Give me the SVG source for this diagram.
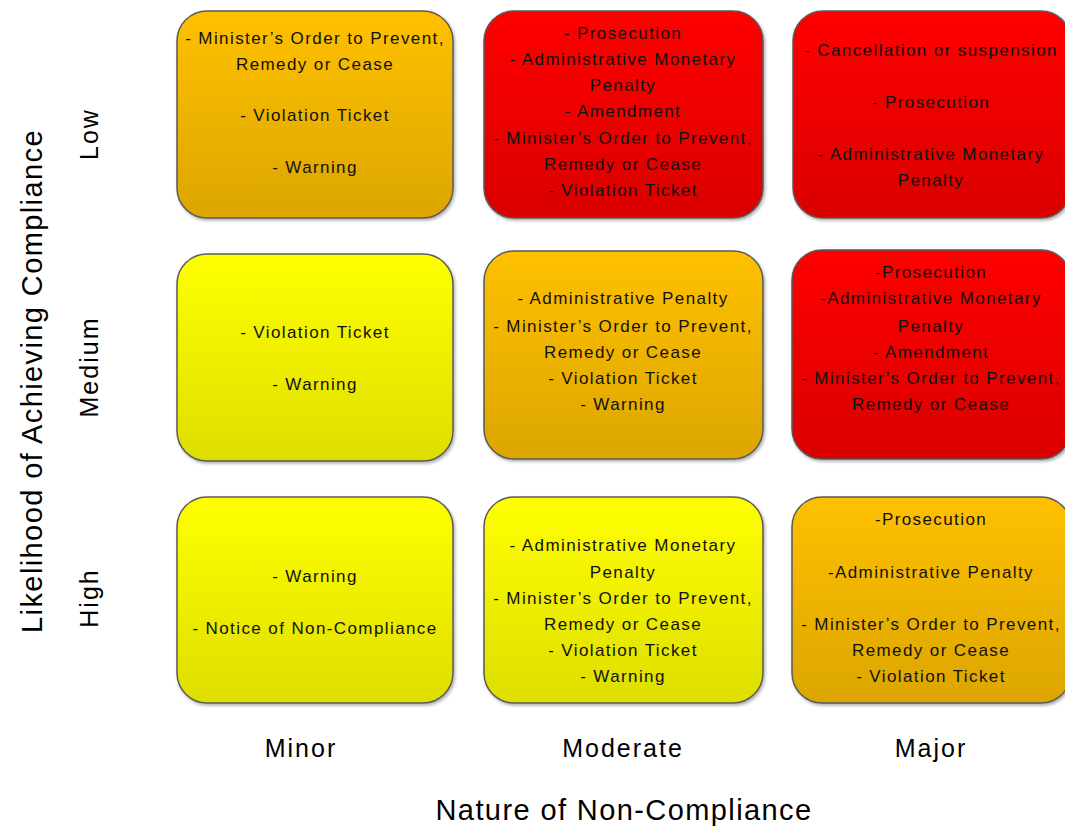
<svg xmlns="http://www.w3.org/2000/svg" width="1065" height="829" viewBox="0 0 1065 829">
<style>
.box{stroke:#5a5a5a;stroke-width:1.5;filter:url(#sh)}
.t{font-family:"Liberation Sans",Arial,sans-serif;font-size:17px;fill:#111;text-anchor:middle;letter-spacing:1.4px}
.lab{font-family:"Liberation Sans",Arial,sans-serif;font-size:25px;fill:#000;text-anchor:middle;letter-spacing:2px}
.ax{font-family:"Liberation Sans",Arial,sans-serif;font-size:29px;fill:#000;text-anchor:middle;letter-spacing:1.4px}
</style>
<defs>
<linearGradient id="gO" x1="0" y1="0" x2="0" y2="1"><stop offset="0" stop-color="#FFC000"/><stop offset="1" stop-color="#DCA600"/></linearGradient>
<linearGradient id="gR" x1="0" y1="0" x2="0" y2="1"><stop offset="0" stop-color="#FF0000"/><stop offset="1" stop-color="#DA0000"/></linearGradient>
<linearGradient id="gY" x1="0" y1="0" x2="0" y2="1"><stop offset="0" stop-color="#FFFF00"/><stop offset="1" stop-color="#DEDE00"/></linearGradient>
<filter id="sh" x="-5%" y="-5%" width="112%" height="115%"><feDropShadow dx="1.5" dy="2" stdDeviation="1.5" flood-color="#000" flood-opacity="0.3"/></filter>
</defs>
<rect width="1065" height="829" fill="#fff"/>
<g id="n11"><rect class="box" x="177" y="11" width="276" height="207" rx="30" fill="url(#gO)"/>
<text class="t"><tspan x="315" y="44">- Minister’s Order to Prevent,</tspan><tspan x="315" y="70">Remedy or Cease</tspan><tspan x="315" y="121">- Violation Ticket</tspan><tspan x="315" y="173">- Warning</tspan></text></g>
<g id="n12"><rect class="box" x="484" y="11" width="279" height="207" rx="30" fill="url(#gR)"/>
<text class="t"><tspan x="623" y="39">- Prosecution</tspan><tspan x="623" y="65">- Administrative Monetary</tspan><tspan x="623" y="91">Penalty</tspan><tspan x="623" y="117">- Amendment</tspan><tspan x="623" y="144">- Minister’s Order to Prevent,</tspan><tspan x="623" y="170">Remedy or Cease</tspan><tspan x="623" y="196">- Violation Ticket</tspan></text></g>
<g id="n13"><rect class="box" x="793" y="11" width="278" height="207" rx="30" fill="url(#gR)"/>
<text class="t"><tspan x="931" y="56">- Cancellation or suspension</tspan><tspan x="931" y="108">- Prosecution</tspan><tspan x="931" y="160">- Administrative Monetary</tspan><tspan x="931" y="186">Penalty</tspan></text></g>
<g id="n21"><rect class="box" x="177" y="254" width="276" height="207" rx="30" fill="url(#gY)"/>
<text class="t"><tspan x="315" y="338">- Violation Ticket</tspan><tspan x="315" y="390">- Warning</tspan></text></g>
<g id="n22"><rect class="box" x="484" y="251" width="279" height="208" rx="30" fill="url(#gO)"/>
<text class="t"><tspan x="623" y="304">- Administrative Penalty</tspan><tspan x="623" y="332">- Minister’s Order to Prevent,</tspan><tspan x="623" y="358">Remedy or Cease</tspan><tspan x="623" y="384">- Violation Ticket</tspan><tspan x="623" y="410">- Warning</tspan></text></g>
<g id="n23"><rect class="box" x="792" y="250" width="279" height="209" rx="30" fill="url(#gR)"/>
<text class="t"><tspan x="931" y="278">-Prosecution</tspan><tspan x="931" y="304">-Administrative Monetary</tspan><tspan x="931" y="332">Penalty</tspan><tspan x="931" y="358">- Amendment</tspan><tspan x="931" y="384">- Minister’s Order to Prevent,</tspan><tspan x="931" y="410">Remedy or Cease</tspan></text></g>
<g id="n31"><rect class="box" x="177" y="497" width="276" height="206" rx="30" fill="url(#gY)"/>
<text class="t"><tspan x="315" y="582">- Warning</tspan><tspan x="315" y="634">- Notice of Non-Compliance</tspan></text></g>
<g id="n32"><rect class="box" x="484" y="497" width="279" height="206" rx="30" fill="url(#gY)"/>
<text class="t"><tspan x="623" y="551">- Administrative Monetary</tspan><tspan x="623" y="578">Penalty</tspan><tspan x="623" y="604">- Minister’s Order to Prevent,</tspan><tspan x="623" y="630">Remedy or Cease</tspan><tspan x="623" y="656">- Violation Ticket</tspan><tspan x="623" y="682">- Warning</tspan></text></g>
<g id="n33"><rect class="box" x="792" y="497" width="279" height="206" rx="30" fill="url(#gO)"/>
<text class="t"><tspan x="931" y="525">-Prosecution</tspan><tspan x="931" y="578">-Administrative Penalty</tspan><tspan x="931" y="630">- Minister’s Order to Prevent,</tspan><tspan x="931" y="656">Remedy or Cease</tspan><tspan x="931" y="682">- Violation Ticket</tspan></text></g>
<g id="labels">
<text class="lab" transform="translate(98,134) rotate(-90)">Low</text>
<text class="lab" transform="translate(98,367) rotate(-90)">Medium</text>
<text class="lab" transform="translate(98,598) rotate(-90)">High</text>
<text class="ax" transform="translate(42,381) rotate(-90)">Likelihood of Achieving Compliance</text>
<text class="lab" x="301" y="757">Minor</text>
<text class="lab" x="623" y="757">Moderate</text>
<text class="lab" x="931" y="757">Major</text>
<text class="ax" x="624" y="820">Nature of Non-Compliance</text>
</g>
<g id="connectors"/>
</svg>
